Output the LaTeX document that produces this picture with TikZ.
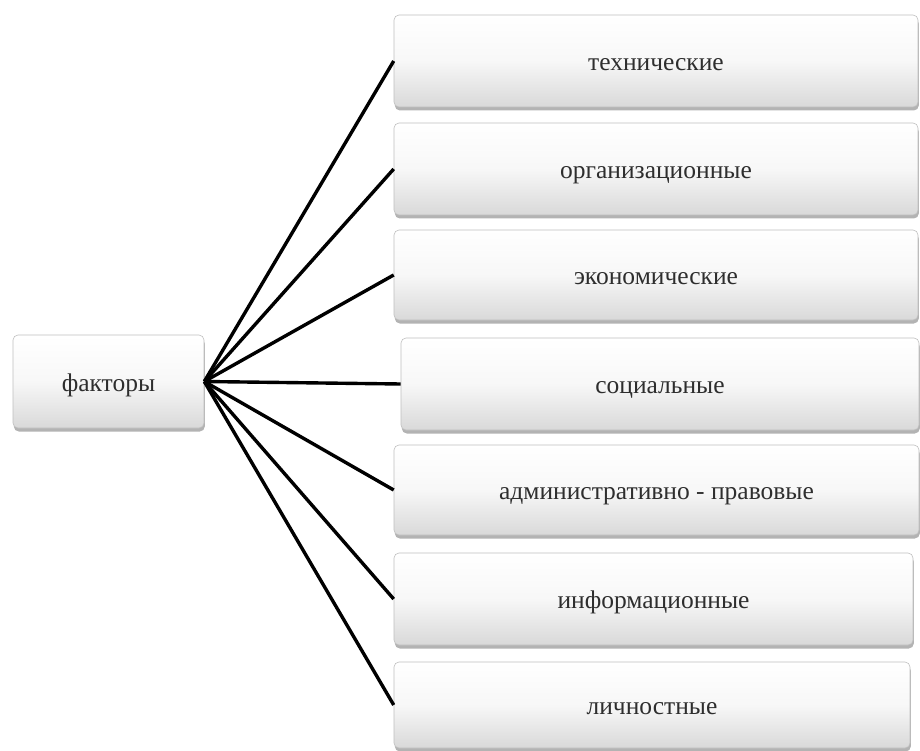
\documentclass[tikz,border=0pt]{standalone}
\usepackage{fontspec}
\setmainfont{Liberation Serif}
\usetikzlibrary{shadows}
\begin{document}
\begin{tikzpicture}[x=1pt,y=-1pt,
  factorbox/.style={rectangle, rounded corners=5pt, draw=gray!50, line width=0.6pt,
    top color=white, bottom color=gray!30, middle color=white!94!gray,
    drop shadow={shadow xshift=0.8pt, shadow yshift=-3.5pt, opacity=0.7, fill=gray!85},
    font=\fontsize{25.5}{29}\selectfont, text=black!82, inner sep=0pt,
    text height=22pt, text depth=3pt},
  link/.style={line width=3.4pt, black}]
  \useasboundingbox (0,0) rectangle (920,751);

  % root node
  \node[factorbox, minimum width=191pt, minimum height=93pt] (root) at (108.5,381.5) {факторы};

  % group of factors
  \node[factorbox, minimum width=524pt, minimum height=92pt] (b1) at (656,61)   {технические};
  \node[factorbox, minimum width=524pt, minimum height=92pt] (b2) at (656,169)  {организационные};
  \node[factorbox, minimum width=524pt, minimum height=90pt] (b3) at (656,275)  {экономические};
  \node[factorbox, minimum width=518pt, minimum height=92pt] (b4) at (660,384)  {социальные};
  \node[factorbox, minimum width=525pt, minimum height=90pt] (b5) at (656.5,490) {административно - правовые};
  \node[factorbox, minimum width=519pt, minimum height=92pt] (b6) at (653.5,599) {информационные};
  \node[factorbox, minimum width=516pt, minimum height=86pt] (b7) at (652,705)  {личностные};

  % connectors
  \foreach \n in {b1,b2,b3,b4,b5,b6,b7}
    \draw[link] (root.east) -- (\n.west);
\end{tikzpicture}
\end{document}
